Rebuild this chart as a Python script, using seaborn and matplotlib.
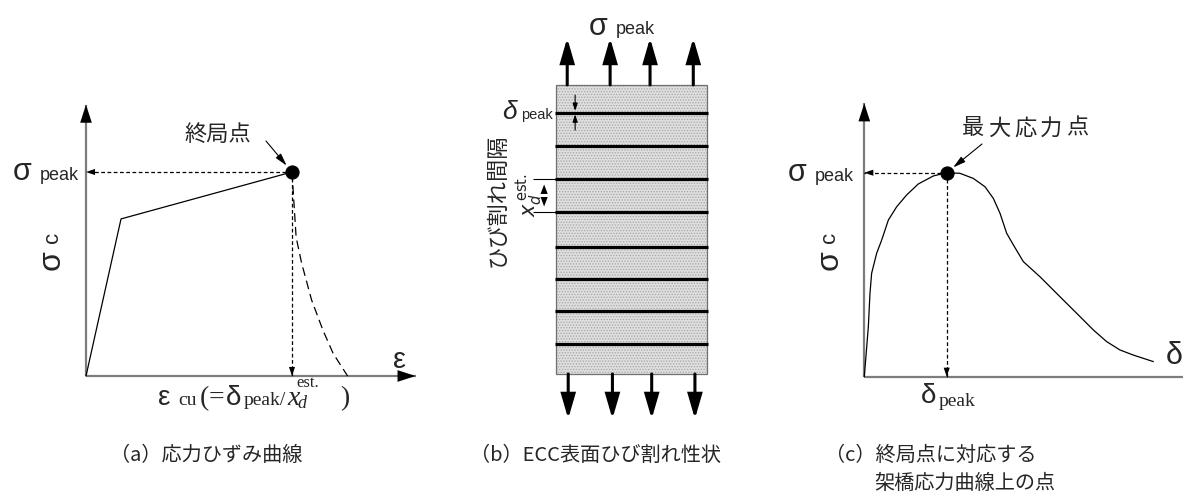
import matplotlib
matplotlib.use("Agg")
import matplotlib.pyplot as plt
from matplotlib.patches import Rectangle
import seaborn as sns

sns.set_theme(style="white")
plt.rcParams["font.family"] = ["Liberation Sans", "Noto Sans CJK JP", "DejaVu Sans"]
plt.rcParams["mathtext.fontset"] = "dejavusans"
plt.rcParams["hatch.linewidth"] = 0.6

W, H, DPI = 1183, 495, 100
CJK = ["Noto Sans CJK JP", "DejaVu Sans"]
SANS = ["Liberation Sans", "DejaVu Sans"]
SERIF = ["Liberation Serif", "DejaVu Serif"]
AX_GREY = "#7d7d7d"

# (a) stress-strain relation, normalised by eps_cu and sigma_peak
strain_a = [0.0, 0.17, 1.0]
stress_a = [0.0, 0.77, 1.0]
soft_strain_a = [1.0, 1.02, 1.047, 1.095, 1.15, 1.20, 1.27]
soft_stress_a = [1.0, 0.68, 0.552, 0.373, 0.225, 0.11, 0.0]

# (b) crack pattern, lengths in units of the crack spacing x_d^est
specimen_w = 4.58
specimen_h = 8.76
crack_y = [0.92, 1.91, 2.88, 3.86, 4.91, 5.91, 6.92, 7.92]
load_top_x = [0.34, 1.64, 2.85, 4.16]
load_bot_x = [0.37, 1.71, 2.90, 4.21]

# (c) bridging stress vs crack opening, normalised by delta_peak and sigma_peak
open_c = [0.0, 0.049, 0.069, 0.089, 0.150, 0.211, 0.292, 0.393, 0.514, 0.656,
          0.838, 1.0, 1.161, 1.323, 1.465, 1.566, 1.647, 1.728, 1.809, 1.930,
          2.132, 2.375, 2.577, 2.780, 2.941, 3.103, 3.265, 3.508]
stress_c = [0.0, 0.245, 0.409, 0.507, 0.605, 0.670, 0.768, 0.833, 0.891, 0.945,
            0.984, 1.0, 0.997, 0.972, 0.931, 0.874, 0.801, 0.703, 0.646, 0.564,
            0.490, 0.392, 0.311, 0.229, 0.172, 0.131, 0.106, 0.074]

fig = plt.figure(figsize=(W / DPI, H / DPI), dpi=DPI)
fig.patch.set_facecolor("white")
renderer = fig.canvas.get_renderer()


def panel(ox, oy, sx, sy):
    """Transparent full-figure axes whose data origin sits at pixel (ox, oy)."""
    ax = fig.add_axes([0, 0, 1, 1])
    ax.set_xlim(-ox / sx, (W - ox) / sx)
    ax.set_ylim((oy - H) / sy, oy / sy)
    ax.set_axis_off()
    return ax


def px2data(ax, px, py):
    return tuple(ax.transData.inverted().transform((px, H - py)))


def ftext(px, py, s, **kw):
    return fig.text(px / W, 1 - py / H, s, **kw)


def head(ax, tip, tail, hl, hw, lw=0.0, color="black"):
    ax.annotate("", xy=tip, xytext=tail,
                arrowprops=dict(arrowstyle=f"-|>,head_length={hl},head_width={hw}",
                                mutation_scale=10, fc=color, ec=color, lw=lw,
                                shrinkA=0, shrinkB=0, joinstyle="miter"))


def axis_arrow(ax, tip):
    ax.plot([0, tip[0]], [0, tip[1]], color=AX_GREY, lw=1.6, solid_capstyle="butt")
    head(ax, tip, (0, 0), 1.3, 0.42)


def guide(ax, start, end):
    ax.plot([start[0], end[0]], [start[1], end[1]], color="black", lw=0.9,
            ls=(0, (3, 2)))
    head(ax, end, start, 0.65, 0.22)


def pointer(ax, target, px, py):
    ax.annotate("", xy=target, xytext=px2data(ax, px, py),
                arrowprops=dict(arrowstyle="-|>,head_length=0.75,head_width=0.2",
                                mutation_scale=10, fc="black", ec="black", lw=0.8,
                                shrinkA=0, shrinkB=6))


def sigma_peak(px, py):
    ftext(px, py, "σ", fontsize=22, ha="center", va="center")
    ftext(px + 18, py + 3, "peak", fontsize=13, ha="left", va="center")


def sigma_c(px, py):
    ftext(px, py + 8, "σ", fontsize=23, ha="center", va="center", rotation=90)
    ftext(px, py - 15, "c", fontsize=16, ha="center", va="center", rotation=90)


# ---------------- (a) stress-strain curve ----------------
ax_a = panel(86, 376, 206, 204)
axis_arrow(ax_a, (0, 1.33))
axis_arrow(ax_a, (1.60, 0))
sns.lineplot(x=strain_a, y=stress_a, ax=ax_a, color="black", lw=0.9,
             sort=False, estimator=None)
ax_a.plot(soft_strain_a, soft_stress_a, color="black", lw=0.9, ls=(0, (7, 4)))
pk_a = (strain_a[-1], stress_a[-1])
guide(ax_a, pk_a, (0, pk_a[1]))
guide(ax_a, pk_a, (pk_a[0], 0))
sns.scatterplot(x=[pk_a[0]], y=[pk_a[1]], ax=ax_a, s=90,
                color="black", edgecolor="black", zorder=5)
pointer(ax_a, pk_a, 266, 141)
ftext(218, 134, "終局点", fontsize=16, family=CJK, ha="center", va="center")
sigma_peak(22, 172)
sigma_c(52, 252)
ftext(400, 360, "ε", fontsize=21, ha="center", va="center")

# ε_cu (= δ_peak / x_d^est.) written under the strain axis, piece by piece
base = 405
x = 158
seq = [
    ("ε", 20, SANS, "normal", 0, 8),
    ("cu", 14, SERIF, "normal", 0, 3),
    ("(", 20, SERIF, "normal", 0, 0),
    ("=", 20, SERIF, "normal", 0, 1),
    ("δ", 20, SANS, "normal", 0, 3),
    ("peak/", 14, SERIF, "normal", 0, 1),
    ("x", 20, SERIF, "italic", 0, -2),
]
for s, size, fam, style, dy, gap in seq:
    t = ftext(x, base + dy, s, fontsize=size, family=fam, style=style,
              ha="left", va="baseline")
    x = t.get_window_extent(renderer).x1 + gap
ftext(x, base + 3, "d", fontsize=13, family=SERIF, style="italic",
      ha="left", va="baseline")
ftext(x - 1, base - 18, "est.", fontsize=12, family=SERIF, ha="left", va="baseline")
ftext(340, base, ")", fontsize=20, family=SERIF, ha="left", va="baseline")

# ---------------- (b) crack pattern ----------------
ax_b = panel(556, 374, 33, 33)
ax_b.add_patch(Rectangle((0, 0), specimen_w, specimen_h, facecolor="#dedede",
                         edgecolor="#a6a6a6", hatch="......", lw=0, zorder=1))
ax_b.add_patch(Rectangle((0, 0), specimen_w, specimen_h, facecolor="none",
                         edgecolor="#6f6f6f", lw=0.9, zorder=2))
ax_b.hlines(crack_y, -0.03, specimen_w + 0.03, color="black", lw=2.3, zorder=3)
for xx in load_top_x:
    head(ax_b, (xx, 10.18), (xx, specimen_h), 1.45, 0.42, lw=2.2)
for xx in load_bot_x:
    head(ax_b, (xx, -1.36), (xx, 0), 1.45, 0.42, lw=2.2)

# crack spacing dimension
ax_b.hlines([crack_y[4], crack_y[5]], -0.70, 0, color="black", lw=0.8)
ax_b.annotate("", xy=(-0.36, crack_y[5]), xytext=(-0.36, crack_y[4]),
              arrowprops=dict(arrowstyle="<|-|>,head_length=0.95,head_width=0.36",
                              mutation_scale=10, fc="black", lw=1.4,
                              shrinkA=0, shrinkB=0))
# crack opening marker on the top crack
top = crack_y[-1]
head(ax_b, (0.58, top + 0.05), (0.58, top + 0.53), 0.45, 0.15, lw=0.8)
head(ax_b, (0.58, top - 0.05), (0.58, top - 0.53), 0.45, 0.15, lw=0.8)

sigma_peak(598, 27)
ftext(509, 112, "δ", fontsize=19, style="italic", ha="center", va="center")
ftext(521, 115, "peak", fontsize=10.5, ha="left", va="center")
ftext(497, 200, "ひび割れ間隔", fontsize=16, family=CJK, rotation=90,
      ha="center", va="center")
ftext(530, 195, r"$x_d^{\,\mathrm{est.}}$", fontsize=15, rotation=90,
      ha="center", va="center")

# ---------------- (c) bridging stress curve ----------------
ax_c = panel(864.3, 376.7, 82.4, 204)
axis_arrow(ax_c, (0, 1.34))
axis_arrow(ax_c, (3.95, 0))
sns.lineplot(x=open_c, y=stress_c, ax=ax_c, color="black", lw=0.9,
             sort=False, estimator=None)
ipk = stress_c.index(max(stress_c))
pk = (open_c[ipk], stress_c[ipk])
guide(ax_c, pk, (0, pk[1]))
guide(ax_c, pk, (pk[0], 0))
sns.scatterplot(x=[pk[0]], y=[pk[1]], ax=ax_c, s=90, color="black",
                edgecolor="black", zorder=5)
pointer(ax_c, pk, 982, 144)
for i, ch in enumerate("最大応力点"):
    ftext(1025 + (i - 2) * 26, 128, ch, fontsize=16, family=CJK,
          ha="center", va="center")
sigma_peak(797, 173)
sigma_c(830, 252)
ftext(1166, 356, "δ", fontsize=22, ha="left", va="center")
ftext(929, 396, "δ", fontsize=20, ha="center", va="center")
ftext(939, 401, "peak", fontsize=14, family=SERIF, ha="left", va="center")

# ---------------- captions ----------------
ftext(110, 455, "（a）応力ひずみ曲線", fontsize=14.5, family=CJK, va="center")
ftext(470, 455, "（b）ECC表面ひび割れ性状", fontsize=14.5, family=CJK, va="center")
ftext(825, 455, "（c）終局点に対応する", fontsize=14.5, family=CJK, va="center")
ftext(874, 483, "架橋応力曲線上の点", fontsize=14.5, family=CJK, va="center")

fig.savefig("out.png", dpi=DPI, facecolor="white")
